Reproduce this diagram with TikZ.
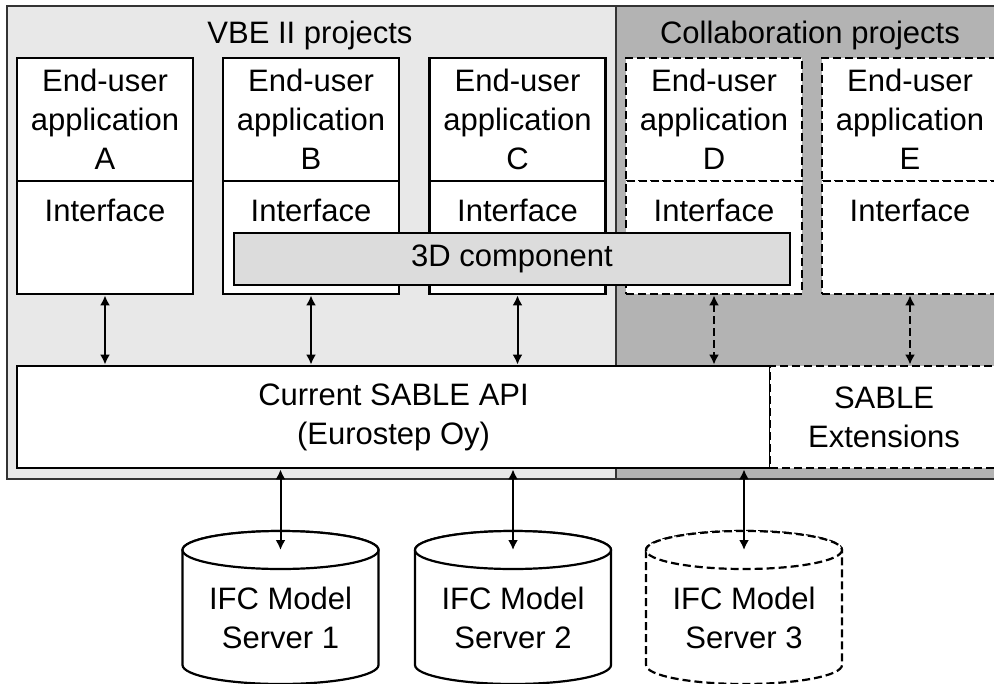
\documentclass[tikz,border=0pt]{standalone}
\usepackage{fontspec}
\setmainfont{Liberation Sans}
\usetikzlibrary{arrows.meta}
\definecolor{vbegray}{HTML}{E8E8E8}
\definecolor{colgray}{HTML}{B3B3B3}
\definecolor{compgray}{HTML}{DCDCDC}
\begin{document}
\begin{tikzpicture}
[x=0.5pt,y=-0.5pt,font=\fontsize{15.5}{19.5}\selectfont,
 box/.style={draw,line width=1.4pt,fill=white,inner sep=0pt,align=center},
 dbox/.style={box,dash pattern=on 4pt off 2pt},
 app/.style={minimum width=88pt,minimum height=61.5pt},
 ifc/.style={minimum width=88pt,minimum height=56.5pt},
 link/.style={line width=1pt,{Latex[length=5pt,width=5pt]}-{Latex[length=5pt,width=5pt]}},
 dlink/.style={link,dash pattern=on 4pt off 2pt},
 cyl/.style={draw,line width=1.1pt,fill=white},
 dcyl/.style={cyl,dash pattern=on 4pt off 2pt}]
\useasboundingbox (0,0) rectangle (994,684);
\clip (0,0) rectangle (994,684);
% project areas
\fill[vbegray] (7,6) rectangle (616,479);
\fill[colgray] (616,6) rectangle (1000,479);
\draw[line width=0.7pt,black!80] (1000,6) -- (7,6) -- (7,479) -- (1000,479) (616,6) -- (616,479);
\node (vbe) at (310,35) {VBE II projects};
\node (collab) at (810,35) {Collaboration projects};
% applications
\node[box,app] (appA) at (105,119.5) {End-user\\application\\A};
\node[box,ifc] (ifA) at (105,237.5) {};\node (tA) at (105,210) {Interface};
\node[box,app] (appB) at (311,119.5) {End-user\\application\\B};
\node[box,ifc] (ifB) at (311,237.5) {};\node (tB) at (311,210) {Interface};
\node[box,app] (appC) at (517.5,119.5) {End-user\\application\\C};
\node[box,ifc] (ifC) at (517.5,237.5) {};\node (tC) at (517.5,210) {Interface};
\node[dbox,app] (appD) at (714,119.5) {End-user\\application\\D};
\node[dbox,ifc] (ifD) at (714,237.5) {};\node (tD) at (714,210) {Interface};
\node[dbox,app] (appE) at (910,119.5) {End-user\\application\\E};
\node[dbox,ifc] (ifE) at (910,237.5) {};\node (tE) at (910,210) {Interface};
\node[box,fill=compgray,minimum width=278pt,minimum height=26pt] (comp) at (512,259) {3D component};
% API
\node[box,minimum width=376.5pt,minimum height=51pt] (api) at (393.5,417) {Current SABLE API\\(Eurostep Oy)};
\node[dbox,minimum width=114pt,minimum height=51pt] (ext) at (884,417) {SABLE\\Extensions};
\draw[link] (ifA.south) -- (ifA.south |- api.north);
\draw[link] (ifB.south) -- (ifB.south |- api.north);
\draw[link] (ifC.south) -- (ifC.south |- api.north);
\draw[dlink] (ifD.south) -- (ifD.south |- api.north);
\draw[dlink] (ifE.south) -- (ifE.south |- ext.north);
% servers
\foreach \n/\c/\s in {1/280.5/cyl,2/513/cyl,3/744/dcyl}{
  \filldraw[\s] (\c-98,550) -- (\c-98,665) arc[start angle=180,end angle=0,x radius=98,y radius=19]
    -- (\c+98,550) arc[start angle=0,end angle=-180,x radius=98,y radius=19] -- cycle;
  \draw[\s] (\c,550) ellipse[x radius=98,y radius=19];
  \coordinate (srv\n) at (\c,550);
  \node[align=center] (t\n) at (\c,618) {IFC Model\\Server \n};
}
\draw[link] (srv1 |- api.south) -- (srv1);
\draw[link] (srv2 |- api.south) -- (srv2);
\draw[link] (srv3 |- api.south) -- (srv3);
\end{tikzpicture}
\end{document}
